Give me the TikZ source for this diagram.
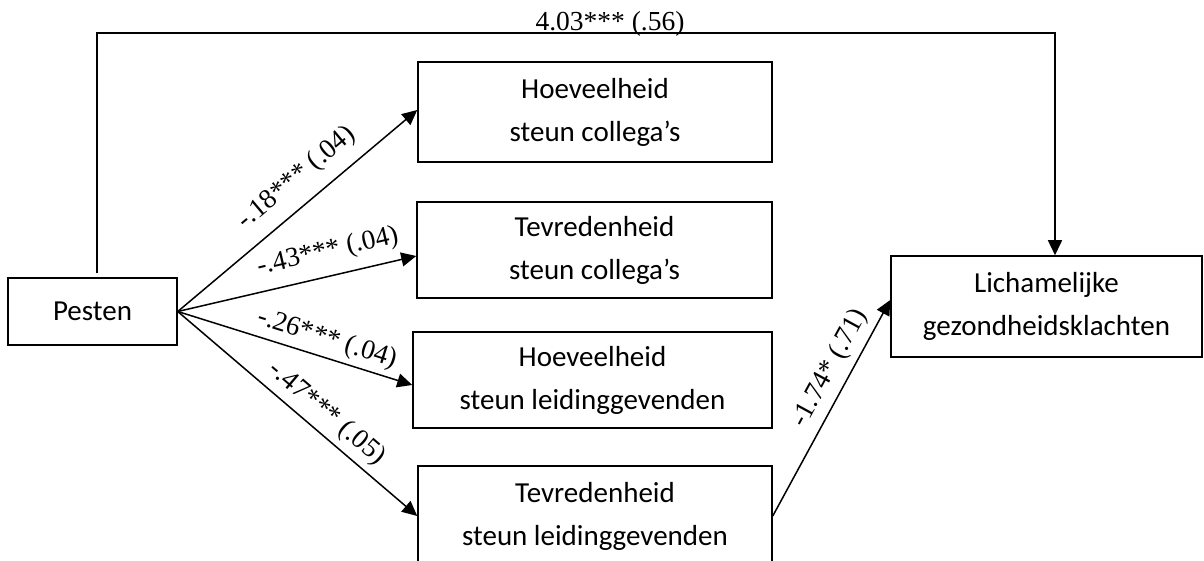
\documentclass[tikz,border=0pt]{standalone}
\usepackage{fontspec}
\setmainfont{Liberation Serif}
\newfontfamily\boxfont{Carlito}
\usetikzlibrary{arrows.meta}
\begin{document}
\begin{tikzpicture}[x=1pt,y=-1pt,
  box/.style={draw, line width=1.5pt, minimum width=354pt, minimum height=100pt, inner sep=0pt, align=center, font=\boxfont\fontsize{29}{43}\selectfont},
  arr/.style={line width=1.5pt, -{Triangle[length=15pt,width=14pt]}},
  lbl/.style={font=\fontsize{27.5}{30}\selectfont, inner sep=0pt}]
\useasboundingbox (0,0) rectangle (1204,561);
\clip (0,0) rectangle (1204,561);
\node[box, minimum width=169pt, minimum height=67pt] (P) at (92.5,311.5) {Pesten};
\node[box] (B1) at (595,112) {Hoeveelheid\\steun collega’s};
\node[box, minimum width=355pt, minimum height=96pt] (B2) at (594.5,250) {Tevredenheid\\steun collega’s};
\node[box, minimum width=359pt, minimum height=96pt] (B3) at (592.5,380) {Hoeveelheid\\steun leidinggevenden};
\node[box] (B4) at (595,516) {Tevredenheid\\steun leidinggevenden};
\node[box, minimum width=311pt, minimum height=101pt] (L) at (1046.5,306.5) {Lichamelijke\\gezondheidsklachten};
\coordinate (tl) at (97,33);
\coordinate (tr) at (1055,33);
\draw[arr] ([xshift=4.5pt,yshift=4pt]P.north) -- (tl) -- node[lbl, pos=.5355, anchor=base, yshift=2pt]{4.03*** (.56)} (tr) -- ([xshift=8.5pt]L.north);
\draw[arr] (P.east) -- node[lbl, sloped, pos=.566, yshift=25.6pt]{-.18*** (.04)} ([yshift=2pt]B1.west);
\draw[arr] (P.east) -- node[lbl, sloped, pos=.652, yshift=24pt]{-.43*** (.04)} ([yshift=-6pt]B2.west);
\draw[arr] (P.east) -- node[lbl, sloped, pos=.614, yshift=18.3pt]{-.26*** (.04)} ([yshift=-5pt]B3.west);
\draw[arr] (P.east) -- node[lbl, sloped, pos=.571, yshift=19.2pt]{-.47*** (.05)} (B4.west);
\draw[arr] (B4.east) -- node[lbl, sloped, pos=.639, yshift=19.9pt]{-1.74* (.71)} ([yshift=6.5pt]L.west);
\end{tikzpicture}
\end{document}
